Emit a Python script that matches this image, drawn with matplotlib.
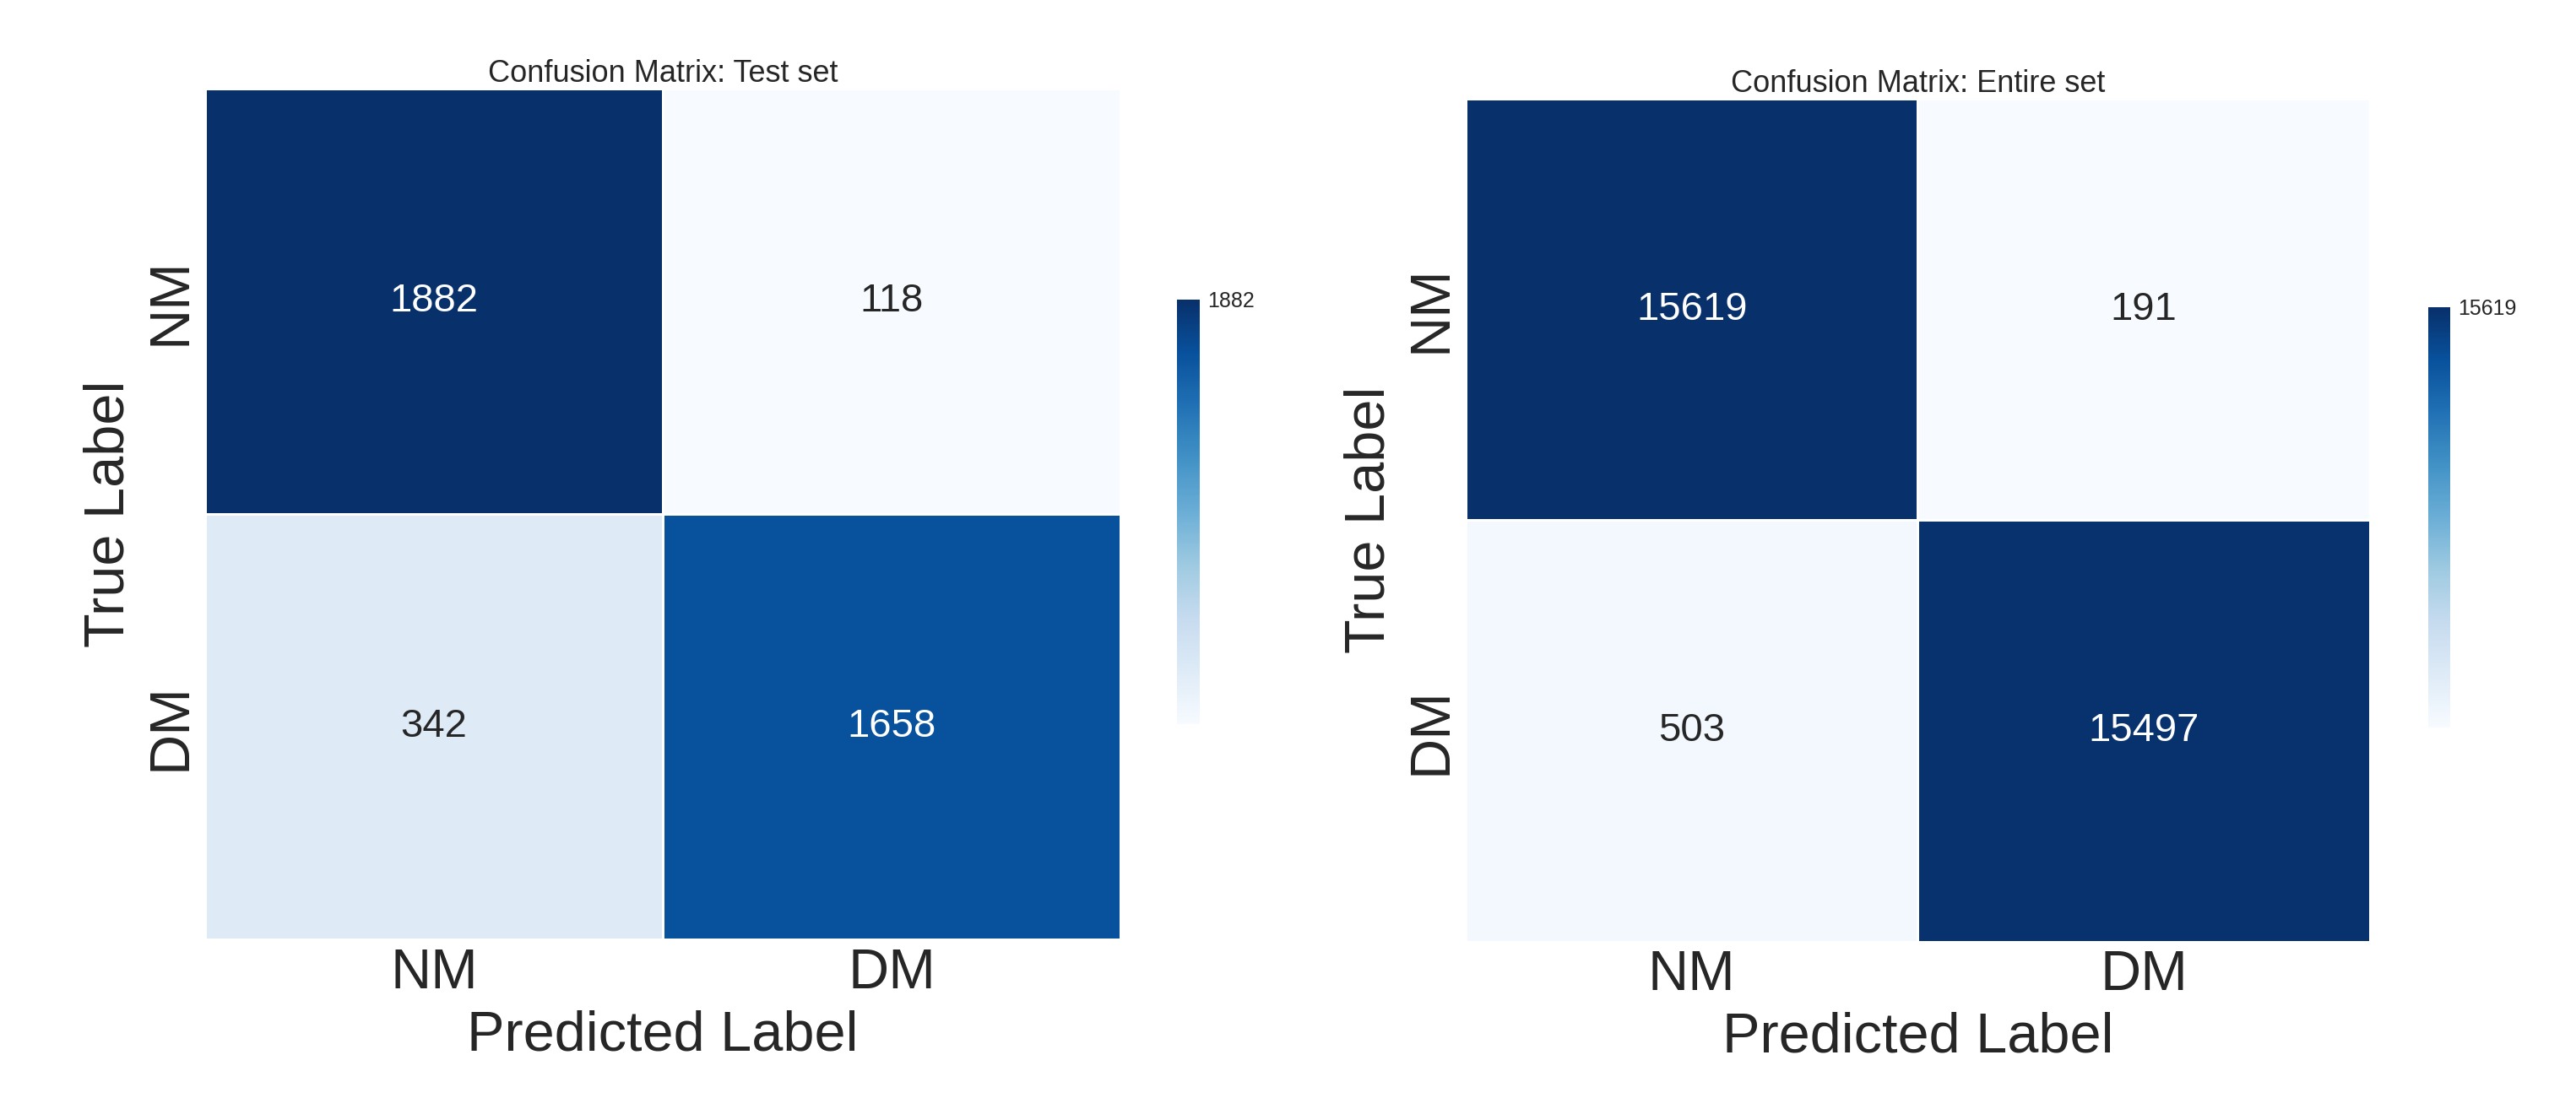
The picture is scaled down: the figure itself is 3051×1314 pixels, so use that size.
import numpy as np
import matplotlib
matplotlib.use("Agg")
import matplotlib.pyplot as plt
import seaborn as sns

labels = ["NM", "DM"]
cm_test = np.array([[1882, 118], [342, 1658]])
cm_all = np.array([[15619, 191], [503, 15497]])
titles = ["Confusion Matrix: Test set", "Confusion Matrix: Entire set"]

sns.set_style("white")
plt.rcParams["font.family"] = ["Liberation Sans", "DejaVu Sans"]
plt.rcParams["text.color"] = "#262626"
plt.rcParams["xtick.color"] = "#262626"
plt.rcParams["ytick.color"] = "#262626"
plt.rcParams["axes.labelcolor"] = "#262626"

fig = plt.figure(figsize=(15.255, 6.57), dpi=200)
axes_pos = [[0.0797, 0.1526, 0.3553, 0.7674], [0.569, 0.151, 0.351, 0.760]]
cbar_pos = [[0.457, 0.3467, 0.0086, 0.3833], [0.9426, 0.344, 0.0085, 0.379]]

for cm, title, apos, cpos in zip([cm_test, cm_all], titles, axes_pos, cbar_pos):
    ax = fig.add_axes(apos)
    cax = fig.add_axes(cpos)
    sns.heatmap(cm, annot=True, fmt="d", cmap="Blues", ax=ax, cbar_ax=cax,
                linewidths=1, linecolor="white",
                annot_kws={"size": 17},
                xticklabels=labels, yticklabels=labels,
                cbar_kws={"ticks": [cm.max()]})
    cax.tick_params(labelsize=9, length=0)
    for s in cax.spines.values():
        s.set_visible(False)
    ax.set_title(title, fontsize=13, pad=3)
    ax.set_xlabel("Predicted Label", fontsize=24)
    ax.set_ylabel("True Label", fontsize=24)
    ax.tick_params(axis="both", labelsize=24, length=0)
    ax.set_yticklabels(labels, rotation=90, va="center")

fig.savefig("out.png", dpi=200)
